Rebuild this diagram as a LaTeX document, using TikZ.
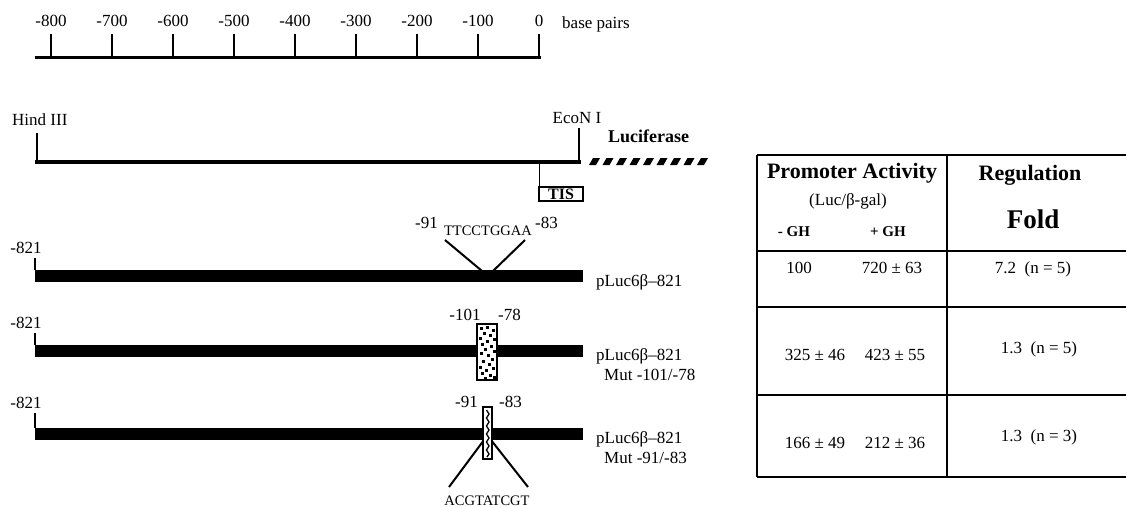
\documentclass[tikz,border=0pt]{standalone}
\usepackage{fontspec}
\setmainfont{Liberation Serif}
\begin{document}
\begin{tikzpicture}[x=1pt,y=-1pt,
  lbl/.style={inner sep=0pt, font=\fontsize{17}{19}\selectfont},
  seq/.style={inner sep=0pt, font=\fontsize{14.5}{16}\selectfont},
  hdr/.style={inner sep=0pt, font=\bfseries\fontsize{22}{24}\selectfont},
  small/.style={inner sep=0pt, font=\bfseries\fontsize{15}{17}\selectfont},
  tline/.style={line width=2.5pt},
  bar/.style={fill=black},
  ptr/.style={line width=2pt},
  tick/.style={line width=1.2pt},
  mutbox/.style={draw=black, fill=white, line width=1.5pt}
]
\useasboundingbox (0,0) rectangle (1126,507);

% ---- ruler ----
\draw[line width=3pt] (35,57) -- (540.5,57);
\foreach \v [count=\i from 0] in {-800,-700,-600,-500,-400,-300,-200,-100,0} {
  \pgfmathsetmacro{\xx}{51+61*\i}
  \draw[line width=2pt] (\xx,34) -- (\xx,57);
  \node[lbl, anchor=base] (r\i) at (\xx,26) {\v};
}
\node[lbl, anchor=base west] (bp) at (562,28) {base pairs};

% ---- vector line ----
\node[lbl, anchor=base west] (hind) at (12,125) {Hind III};
\node[lbl, anchor=base] (econ) at (577,123) {EcoN I};
\node[inner sep=0pt, font=\bfseries\fontsize{18}{20}\selectfont, anchor=base west] (luc) at (608,142) {Luciferase};
\draw[line width=2pt] (37,133) -- (37,162);
\draw[line width=2pt] (579,128) -- (579,162);
\draw[line width=4pt] (35,162) -- (581,162);
\foreach \i in {0,...,8} {
  \pgfmathsetmacro{\xx}{589+13.5*\i}
  \fill (\xx,165) -- (\xx+7,165) -- (\xx+11,158) -- (\xx+4,158) -- cycle;
}
\draw[line width=1pt] (539,162) -- (539,187);
\node[draw, line width=1.8pt, inner sep=0pt, minimum width=44pt, minimum height=14pt,
      font=\bfseries\fontsize{16}{16}\selectfont] (tis) at (561,194) {TIS};

% ---- construct 1 ----
\fill[bar] (35,270) rectangle (583,282);
\draw[tick] (35,258) -- (35,270);
\node[lbl, anchor=base] (s1) at (26,253) {-821};
\node[lbl, anchor=base east] (a1) at (438,228) {-91};
\node[seq, anchor=base] (q1) at (488,235) {TTCCTGGAA};
\node[lbl, anchor=base west] (b1) at (535,228) {-83};
\draw[ptr] (445,240) -- (482,271);
\draw[ptr] (525,240) -- (493,271);
\node[lbl, anchor=base west] (n1) at (596,286) {pLuc6β–821};

% ---- construct 2 ----
\fill[bar] (35,345) rectangle (583,357);
\draw[tick] (35,333) -- (35,345);
\node[lbl, anchor=base] (s2) at (26,328) {-821};
\node[lbl, anchor=base] (a2) at (465,320) {-101};
\node[lbl, anchor=base west] (b2) at (498,320) {-78};
\draw[mutbox] (477,324) rectangle (497,380);
\foreach \dx/\dy in {3/3,9/2,15/5,6/8,12/10,2/13,16/14,9/16,4/19,13/21,7/24,16/26,3/28,10/30,14/34,5/36,11/39,2/42,15/43,8/45,4/48,12/50,16/52,7/53}
  \fill (477+\dx,324+\dy) rectangle ++(3,3);
\node[lbl, anchor=base west] (n2) at (596,360) {pLuc6β–821};
\node[lbl, anchor=base west] (m2) at (604,380) {Mut -101/-78};

% ---- construct 3 ----
\fill[bar] (35,428) rectangle (583,440);
\draw[tick] (35,413) -- (35,428);
\node[lbl, anchor=base] (s3) at (26,408) {-821};
\node[lbl, anchor=base east] (a3) at (478,407) {-91};
\node[lbl, anchor=base west] (b3) at (499,407) {-83};
\draw[ptr] (484,440) -- (449,487);
\draw[ptr] (491,440) -- (528,487);
\draw[mutbox] (483,407) rectangle (492,459);
\draw[line width=1.3pt] (486.5,410) -- (489,414) -- (486.5,418) -- (489,422) -- (486.5,426) -- (489,430) -- (486.5,434) -- (489,438) -- (486.5,442) -- (489,446) -- (486.5,450) -- (489,454) -- (487,457);
\node[seq, anchor=base] (q3) at (487,505) {ACGTATCGT};
\node[lbl, anchor=base west] (n3) at (596,443) {pLuc6β–821};
\node[lbl, anchor=base west] (m3) at (604,463) {Mut -91/-83};

% ---- table ----
\draw[tline] (757,155) -- (1126,155);
\draw[tline] (757,155) -- (757,477);
\draw[tline] (947,155) -- (947,477);
\draw[tline] (757,251) -- (1126,251);
\draw[tline] (757,307) -- (1126,307);
\draw[tline] (757,395) -- (1126,395);
\draw[tline] (757,477) -- (1126,477);

\node[hdr, anchor=base] (h1) at (852,178) {Promoter Activity};
\node[lbl, anchor=base] (h2) at (848,205) {(Luc/β-gal)};
\node[small, anchor=base] (h3) at (794,236) {- GH};
\node[small, anchor=base] (h4) at (888,236) {+ GH};
\node[hdr, anchor=base] (h5) at (1030,180) {Regulation};
\node[inner sep=0pt, font=\bfseries\fontsize{27}{29}\selectfont, anchor=base] (h6) at (1033,228) {Fold};

\node[lbl, anchor=base] (c11) at (799,273) {100};
\node[lbl, anchor=base] (c12) at (892,273) {720 ± 63};
\node[lbl, anchor=base] (c13) at (1033,273) {7.2\ \ (n = 5)};
\node[lbl, anchor=base] (c21) at (815,360) {325 ± 46};
\node[lbl, anchor=base] (c22) at (895,360) {423 ± 55};
\node[lbl, anchor=base] (c23) at (1039,353) {1.3\ \ (n = 5)};
\node[lbl, anchor=base] (c31) at (815,448) {166 ± 49};
\node[lbl, anchor=base] (c32) at (895,448) {212 ± 36};
\node[lbl, anchor=base] (c33) at (1039,441) {1.3\ \ (n = 3)};
\end{tikzpicture}
\end{document}
